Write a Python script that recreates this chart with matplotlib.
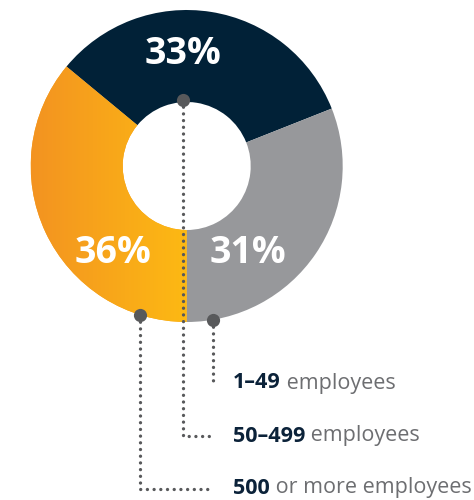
import numpy as np
import matplotlib
matplotlib.use("Agg")
import matplotlib.pyplot as plt
from matplotlib.colors import LinearSegmentedColormap

plt.rcParams["font.family"] = ["Open Sans", "DejaVu Sans"]

# data, in drawing order (clockwise from 6 o'clock)
sizes = ["500 or more", "50-499", "1-49"]
shares = [36, 33, 31]
colors = ["#F7A11B", "#012137", "#97989B"]
bold_labels = ["500", "50\u2013499", "1\u201349"]
rest_labels = [" or more employees", " employees", " employees"]

W, H = 474, 500
CX, CY = 186.7, 166       # centre, pixels from top
R_OUT, R_IN = 156, 64


def py(y):
    return H - y


fig = plt.figure(figsize=(W / 100, H / 100), dpi=100)
ax = fig.add_axes([0, 0, 1, 1])

wedges, _ = ax.pie(
    shares,
    colors=colors,
    startangle=270,
    counterclock=False,
    radius=R_OUT,
    center=(CX, py(CY)),
    wedgeprops=dict(width=R_OUT - R_IN, linewidth=0),
)

# orange wedge gets a left-to-right gradient
cmap = LinearSegmentedColormap.from_list("org", ["#F39321", "#FDB913"])
grad = np.linspace(0, 1, 256).reshape(1, -1)
im = ax.imshow(
    grad,
    cmap=cmap,
    extent=[CX - R_OUT, CX, py(CY + R_OUT), py(CY - R_OUT)],
    aspect="auto",
    zorder=2,
)
im.set_clip_path(wedges[0])

ax.set_xlim(0, W)
ax.set_ylim(0, H)
ax.set_aspect("auto")
ax.axis("off")

# percentage labels
pct_pos = [(113, 253), (183, 54), (248, 253)]
for (x, y), v in zip(pct_pos, shares):
    ax.text(x, py(y), f"{v}%", color="white", fontsize=27, fontweight="bold",
            ha="center", va="center", zorder=5)

# leader dots and dotted lines
dot_col = "#58595B"
dot_pos = [(140, 315), (183.3, 100), (213.3, 320)]
line_end = [489, 436, 385]
text_y = [488, 436, 383]
TX = 233
for i in range(3):
    x0, y0 = dot_pos[i]
    ye = line_end[i]
    xs = [x0, x0]
    ys = [py(y0), py(ye)]
    if x0 < TX - 25:
        xs.append(TX - 20)
        ys.append(py(ye))
    ax.plot(xs, ys, color=dot_col, lw=2.4, ls=(0, (0.01, 2.0)),
            dash_capstyle="round", zorder=4)
    ax.plot([x0], [py(y0)], "o", color=dot_col, ms=9.5, mec="none", zorder=6)

    t = ax.text(TX, py(text_y[i]), bold_labels[i], color="#0B2239",
                fontsize=15.5, fontweight="bold", ha="left", va="center")
    ax.annotate(rest_labels[i], xy=(1, 0.5), xycoords=t, color="#6D6E71",
                fontsize=15.5, ha="left", va="center")

fig.savefig("out.png", dpi=100)
